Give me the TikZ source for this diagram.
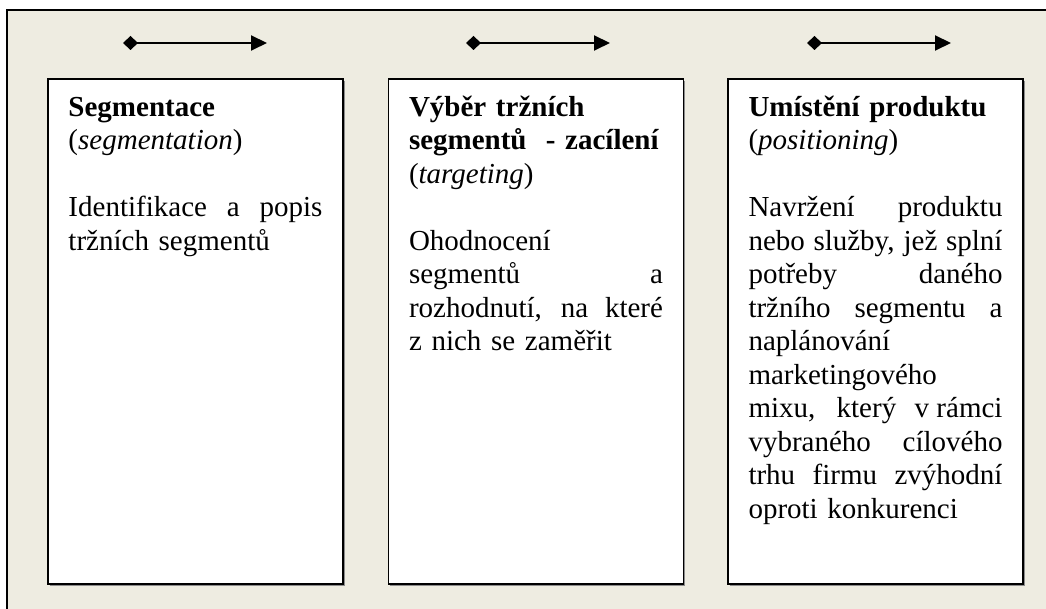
\documentclass[tikz,border=0pt]{standalone}
\usepackage{fontspec}
\setmainfont{Liberation Serif}
\usetikzlibrary{arrows.meta,shadows}
\definecolor{stpbeige}{RGB}{238,236,225}
\definecolor{stpshadow}{RGB}{140,140,140}
\newlength{\boxtw}
\setlength{\boxtw}{127pt}
\newcommand{\jl}[1]{\hbox to\boxtw{\spaceskip=0.25em plus 1fil\relax #1}\par}
\newcommand{\stpgap}{\vspace{16.75pt}}

\begin{document}
\begin{tikzpicture}[x=0.5pt,y=-0.5pt,
    stage/.style={draw, line width=0.9pt, fill=white, inner sep=0pt,
      minimum width=147.5pt, minimum height=252.5pt,
      drop shadow={shadow xshift=0.8pt, shadow yshift=-0.8pt, fill=stpshadow, opacity=1}},
    stagetext/.style={anchor=base west, inner sep=0pt, text width=\boxtw,
      font=\fontsize{14.5pt}{16.75pt}\selectfont},
    flow/.style={line width=1pt, {Diamond[length=7.5pt,width=7pt]}-{Triangle[length=8pt,width=7.5pt]}}]
    \useasboundingbox (0,0) rectangle (1046,609);

    % background frame
    \fill[stpbeige] (7,10) rectangle (1060,620);
    \draw[line width=0.8pt] (1060,10) -- (7,10) -- (7,620);

    % arrows on top
    \coordinate (s1) at (123,43);
    \coordinate (e1) at (267,43);
    \coordinate (s2) at (466,43);
    \coordinate (e2) at (610,43);
    \coordinate (s3) at (807,43);
    \coordinate (e3) at (951,43);
    \draw[flow] (s1) -- (e1);
    \draw[flow] (s2) -- (e2);
    \draw[flow] (s3) -- (e3);

    % the three stages
    \node[stage] (seg) at (195.5,331.5) {};
    \node[stage] (tar) at (536,331.5) {};
    \node[stage] (pos) at (875.5,331.5) {};

    \node[stagetext] (segtxt) at ([shift={(10.5pt,-19pt)}]seg.north west) {%
        {\bfseries Segmentace}\par
        (\textit{segmentation})\par
        \stpgap
        \jl{Identifikace a popis}
        tržních segmentů\par};

    \node[stagetext] (tartxt) at ([shift={(10.5pt,-19pt)}]tar.north west) {%
        {\bfseries Výběr tržních}\par
        {\bfseries segmentů\ \ - zacílení}\par
        (\textit{targeting})\par
        \stpgap
        Ohodnocení\par
        \jl{segmentů a}
        \jl{rozhodnutí, na které}
        z nich se zaměřit\par};

    \node[stagetext] (postxt) at ([shift={(10.5pt,-19pt)}]pos.north west) {%
        {\bfseries Umístění produktu}\par
        (\textit{positioning})\par
        \stpgap
        \jl{Navržení produktu}
        \jl{nebo služby, jež splní}
        \jl{potřeby daného}
        \jl{tržního segmentu a}
        naplánování\par
        marketingového\par
        \jl{mixu, který \mbox{v rámci}}
        \jl{vybraného cílového}
        \jl{trhu firmu zvýhodní}
        oproti konkurenci\par};
\end{tikzpicture}
\end{document}
